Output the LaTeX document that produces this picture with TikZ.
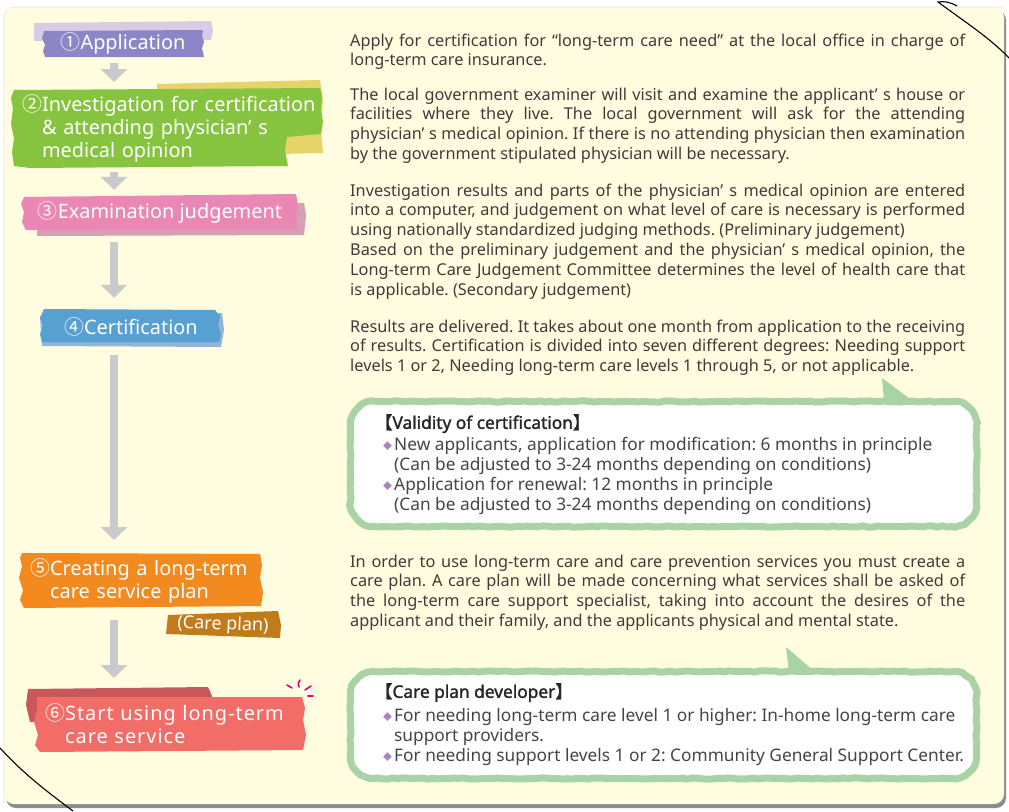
\documentclass[tikz,border=0pt]{standalone}
\usepackage{fontspec}
\setmainfont{Noto Sans}
\newfontfamily\cjk{Noto Sans CJK JP}
\newfontfamily\cjkb{Noto Sans CJK JP}[FakeBold=1.6]
\newfontfamily\tbf{Noto Sans}[FakeBold=1.6]
\newfontfamily\dvs{DejaVu Sans}
\usetikzlibrary{arrows.meta,decorations.pathmorphing}
\frenchspacing
\definecolor{cream}{HTML}{FFFCE0}
\definecolor{shadowc}{HTML}{8C8C8C}
\definecolor{txtc}{HTML}{3F3B3A}
\definecolor{btxt}{HTML}{454545}
\definecolor{purp}{HTML}{8C86C6}
\definecolor{lilac}{HTML}{DACBE5}
\definecolor{grn}{HTML}{86C43F}
\definecolor{ylw}{HTML}{E6D46A}
\definecolor{pnk}{HTML}{EA87B5}
\definecolor{pnkb}{HTML}{D79FB4}
\definecolor{blu}{HTML}{57A0D2}
\definecolor{blub}{HTML}{94B4D6}
\definecolor{org}{HTML}{F28A20}
\definecolor{brn}{HTML}{C27B1B}
\definecolor{rd}{HTML}{F26D67}
\definecolor{rdb}{HTML}{C8585A}
\definecolor{arrg}{HTML}{CACACC}
\definecolor{bubg}{HTML}{A9D3A5}
\definecolor{diac}{HTML}{A985C0}
\definecolor{mag}{HTML}{E4007F}
\newcommand\jl[1]{\makebox[615pt][s]{#1}}
\newcommand\cn[1]{{\cjk #1}}
\newcommand\dia{\makebox[11pt][l]{\raisebox{1pt}{\textcolor{diac}{\cjk\fontsize{9}{9}\selectfont ◆}}}}
\tikzset{
  lab/.style={text=white, inner sep=0pt, font=\fontsize{19.9}{23}\selectfont},
  bodytxt/.style={anchor=north west, inner sep=0pt, align=left, text=txtc, font=\fontsize{16.3}{19.8}\selectfont},
  bubtxt/.style={anchor=north west, inner sep=0pt, align=left, text=btxt, font=\fontsize{17.3}{20}\selectfont},
  grarrow/.style={draw=arrg, line width=8pt, -{Triangle[width=26pt,length=13pt]}},
  bubfill/.style={fill=white, rounded corners=24pt},
  bubline/.style={draw=bubg, line width=7pt, decorate, decoration={random steps, segment length=5pt, amplitude=0.6pt}},
}
\begin{document}
\begin{tikzpicture}[x=1pt,y=-1pt]
\pgfmathsetseed{7}
\useasboundingbox (0,0) rectangle (1009,811);
\fill[white] (0,0) rectangle (1009,811);
% panel
\fill[shadowc, rounded corners=10pt] (6,10) rectangle (1006,808);
\fill[cream, rounded corners=10pt] (4,7) rectangle (1004,804);
\draw[black!10, line width=0.6pt, rounded corners=10pt] (4,804) -- (4,7) -- (1004,7);
% black curves
\draw[black, line width=1.1pt] (957,6) .. controls (950,2) and (944,1) .. (938,2) .. controls (965,22) and (990,38) .. (1009,58);
\draw[black, line width=1.1pt] (0,748) .. controls (25,775) and (45,790) .. (73,811);

% tapes
\fill[lilac] (34,23) -- (211,21) -- (213,31) -- (211,40) -- (34,41) -- cycle;
\fill[purp] (44,31) -- (203,30) -- (202,36) -- (204,42) -- (202,48) -- (204,57) -- (45,57) -- (43,51) -- (45,45) -- (42,38) -- cycle;

\fill[ylw] (157,84) -- (320,80) -- (323,100) -- (321,130) -- (323,153) -- (280,154) -- (157,150) -- cycle;
\fill[grn] (14,90) -- (320,88) -- (322,96) -- (321,110) -- (323,122) -- (321,134) -- (287,137) -- (285,150) -- (288,166) -- (30,168) -- (14,166) -- (12,152) -- (14,138) -- (11,124) -- (13,108) -- (11,98) -- cycle;

\fill[pnkb] (37,205) -- (304,203) -- (306,215) -- (304,235) -- (37,236) -- cycle;
\fill[pnk] (24,197) -- (296,194) -- (298,205) -- (296,215) -- (297,229) -- (26,230) -- (22,222) -- (24,212) -- (21,204) -- cycle;

\fill[blub] (40,316) -- (222,313) -- (224,330) -- (221,347) -- (42,346) -- cycle;
\fill[blu] (44,309) -- (215,310) -- (220,316) -- (218,325) -- (221,334) -- (219,342) -- (42,342) -- (40,334) -- (43,325) -- (40,318) -- cycle;

\fill[org] (22,553) -- (260,554) -- (262,565) -- (260,578) -- (263,592) -- (261,606) -- (24,608) -- (20,600) -- (23,590) -- (19,578) -- (22,566) -- (20,558) -- cycle;
\fill[brn] (168,615) -- (278,611) -- (281,625) -- (280,638) -- (166,634) -- cycle;

\fill[rdb] (28,689) -- (208,687) -- (212,696) -- (210,720) -- (30,722) -- (26,705) -- cycle;
\fill[rd] (37,697) -- (302,697) -- (305,708) -- (303,720) -- (306,735) -- (303,750) -- (40,752) -- (35,745) -- (38,735) -- (34,722) -- (37,710) -- cycle;

% sparkle
\draw[mag, line width=1.6pt, line cap=round] (287,685) -- (292,688);
\draw[mag, line width=1.6pt, line cap=round] (300,680) .. controls (298,683) .. (299,687);
\draw[mag, line width=1.6pt, line cap=round] (305,690) -- (311,686);
\draw[mag, line width=1.6pt, line cap=round] (308,696) -- (313,696);

% label nodes
\node[lab, minimum width=160pt, minimum height=27pt] (app) at (123,43.5) {\cn{①}Application};
\node[lab, anchor=north west, minimum height=80pt, text width=300pt, inner xsep=10pt, align=left] (inv) at (12,88)
  {\cn{②}Investigation for certification\\\phantom{\cn{②}}\& attending physician’ s\\\phantom{\cn{②}}medical opinion};
\node[lab, minimum width=275pt, minimum height=34pt] (exam) at (160,212.5) {\cn{③}Examination judgement};
\node[lab, minimum width=180pt, minimum height=34pt] (cert) at (131,326.5) {\cn{④}Certification};
\node[lab, anchor=north west, minimum height=55pt, text width=232pt, inner xsep=10pt, align=left] (create) at (20,553)
  {\cn{⑤}Creating a long-term\\\phantom{\cn{⑤}}care service plan};
\node[lab, font=\fontsize{18}{20}\selectfont, rotate=-2] (cp) at (223,625) {(Care plan)};
\node[lab, anchor=north west, minimum height=55pt, text width=255pt, inner xsep=10pt, align=left] (start) at (35,697)
  {\addfontfeature{LetterSpace=5}\cn{⑥}Start using long-term\\\phantom{\cn{⑥}}care service};

% arrows
\coordinate (axis) at (114,0);
\draw[grarrow, shorten <=6pt, shorten >=6pt] (app.south -| axis) -- (inv.north -| axis);
\draw[grarrow, shorten <=4pt, shorten >=5.5pt] (inv.south -| axis) -- (exam.north -| axis);
\draw[grarrow, shorten <=12.5pt, shorten >=11.5pt] (exam.south -| axis) -- (cert.north -| axis);
\draw[grarrow, shorten <=11.5pt, shorten >=13pt] (cert.south -| axis) -- (create.north -| axis);
\draw[grarrow, shorten <=12pt, shorten >=19pt] (create.south -| axis) -- (start.north -| axis);

% body paragraphs
\node[bodytxt] (p1) at (350,32.1) {\strut\jl{Apply for certification for “long-term care need” at the local office in charge of}\\
long-term care insurance.};
\node[bodytxt] (p2) at (350,86.1) {\strut\jl{The local government examiner will visit and examine the applicant’ s house or}\\
\jl{facilities where they live. The local government will ask for the attending}\\
\jl{physician’ s medical opinion. If there is no attending physician then examination}\\
by the government stipulated physician will be necessary.};
\node[bodytxt] (p3) at (350,182.1) {\strut\jl{Investigation results and parts of the physician’ s medical opinion are entered}\\
\jl{into a computer, and judgement on what level of care is necessary is performed}\\
using nationally standardized judging methods. (Preliminary judgement)\\
\jl{Based on the preliminary judgement and the physician’ s medical opinion, the}\\
\jl{Long-term Care Judgement Committee determines the level of health care that}\\
is applicable. (Secondary judgement)};
\node[bodytxt] (p4) at (350,318.1) {\strut\jl{Results are delivered. It takes about one month from application to the receiving}\\
\jl{of results. Certification is divided into seven different degrees: Needing support}\\
levels 1 or 2, Needing long-term care levels 1 through 5, or not applicable.};
\node[bodytxt] (p5) at (350,553.1) {\strut\jl{In order to use long-term care and care prevention services you must create a}\\
\jl{care plan. A care plan will be made concerning what services shall be asked of}\\
\jl{the long-term care support specialist, taking into account the desires of the}\\
applicant and their family, and the applicants physical and mental state.};

% bubble 1
\fill[bubfill] (350.5,401.5) rectangle (976.5,526.5);
\draw[bubline] (374.5,401.5) -- (952.5,401.5) arc[start angle=90, end angle=0, radius=24pt] -- (976.5,502.5) arc[start angle=0, end angle=-90, radius=24pt] -- (374.5,526.5) arc[start angle=-90, end angle=-180, radius=24pt] -- (350.5,425.5) arc[start angle=180, end angle=90, radius=24pt] -- cycle;
\fill[bubg] (884,401) -- (882,378) -- (913,401) -- cycle;
\node[bubtxt] (b1) at (375,414) {\strut{\color{black!85}{\cjkb 【}{\tbf Validity of certification}{\cjkb 】}}\\[2pt]
\hspace*{8pt}\dia New applicants, application for modification: 6 months in principle\\
\hspace*{19pt}(Can be adjusted to 3-24 months depending on conditions)\\
\hspace*{8pt}\dia Application for renewal: 12 months in principle\\
\hspace*{19pt}(Can be adjusted to 3-24 months depending on conditions)};

% bubble 2
\fill[bubfill] (350.5,671.5) rectangle (976.5,778.5);
\draw[bubline] (374.5,671.5) -- (952.5,671.5) arc[start angle=90, end angle=0, radius=24pt] -- (976.5,754.5) arc[start angle=0, end angle=-90, radius=24pt] -- (374.5,778.5) arc[start angle=-90, end angle=-180, radius=24pt] -- (350.5,695.5) arc[start angle=180, end angle=90, radius=24pt] -- cycle;
\fill[bubg] (789,672) -- (786,647) -- (815,672) -- cycle;
\node[bubtxt] (b2) at (375,683) {\strut{\color{black!85}{\cjkb 【}{\tbf Care plan developer}{\cjkb 】}}\\[4pt]
\hspace*{8pt}\dia For needing long-term care level 1 or higher: In-home long-term care\\
\hspace*{19pt}support providers.\\
\hspace*{8pt}\dia For needing support levels 1 or 2: Community General Support Center.};
\end{tikzpicture}
\end{document}
